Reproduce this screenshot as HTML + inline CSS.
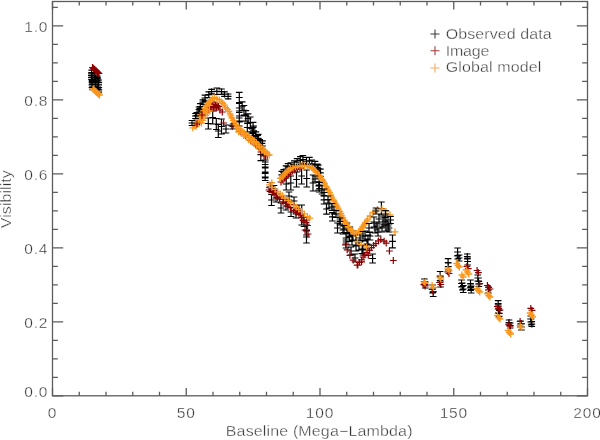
<!DOCTYPE html>
<html><head><meta charset="utf-8"><style>
html,body{margin:0;padding:0;background:#fff;width:600px;height:440px;overflow:hidden}
svg{display:block;will-change:transform}
.t{font-family:"Liberation Sans",sans-serif;font-size:15.5px;fill:#333333;letter-spacing:0.8px;stroke:#fff;stroke-width:0.35px}
.s{font-family:"Liberation Sans",sans-serif;font-size:14.3px;fill:#333333;stroke:#fff;stroke-width:0.35px}
</style></head><body>
<svg width="600" height="440" viewBox="0 0 600 440">
<rect width="600" height="440" fill="#fff"/>
<path d="M91.7 70.1v5.0M88.4 70.1h6.6M88.4 75.1h6.6M88.3 72.6h6.8M91.7 69.2v6.8M91.4 73.1v4.6M88.1 73.1h6.6M88.1 77.7h6.6M88.0 75.4h6.8M91.4 72.0v6.8M91.5 75.6v4.1M88.2 75.6h6.6M88.2 79.7h6.6M88.1 77.7h6.8M91.5 74.3v6.8M92.1 77.4v4.1M88.8 77.4h6.6M88.8 81.6h6.6M88.7 79.5h6.8M92.1 76.1v6.8M92.2 80.6v4.2M88.9 80.6h6.6M88.9 84.8h6.6M88.8 82.7h6.8M92.2 79.3v6.8M92.0 82.1v5.5M88.7 82.1h6.6M88.7 87.6h6.6M88.6 84.8h6.8M92.0 81.4v6.8M92.6 84.1v5.6M89.3 84.1h6.6M89.3 89.7h6.6M89.2 86.9h6.8M92.6 83.5v6.8M97.3 76.2v4.5M94.0 76.2h6.6M94.0 80.7h6.6M93.9 78.4h6.8M97.3 75.0v6.8M97.5 77.7v4.5M94.2 77.7h6.6M94.2 82.2h6.6M94.1 79.9h6.8M97.5 76.5v6.8M98.7 80.0v4.9M95.4 80.0h6.6M95.4 84.9h6.6M95.3 82.4h6.8M98.7 79.0v6.8M98.5 82.6v4.9M95.2 82.6h6.6M95.2 87.5h6.6M95.1 85.0h6.8M98.5 81.6v6.8M97.7 84.9v4.3M94.4 84.9h6.6M94.4 89.2h6.6M94.3 87.1h6.8M97.7 83.7v6.8M98.8 87.7v4.5M95.5 87.7h6.6M95.5 92.2h6.6M95.4 89.9h6.8M98.8 86.5v6.8M95.1 73.7v4.5M91.8 73.7h6.6M91.8 78.2h6.6M91.7 75.9h6.8M95.1 72.5v6.8M95.6 78.0v4.4M92.3 78.0h6.6M92.3 82.4h6.6M92.2 80.2h6.8M95.6 76.8v6.8M95.5 81.3v5.4M92.2 81.3h6.6M92.2 86.7h6.6M92.1 84.0h6.8M95.5 80.6v6.8M95.9 85.0v5.6M92.6 85.0h6.6M92.6 90.5h6.6M92.5 87.7h6.8M95.9 84.3v6.8M196.8 112.5v6.5M193.5 112.5h6.6M193.5 119.0h6.6M193.4 115.7h6.8M196.8 112.3v6.8M199.8 108.4v4.8M196.5 108.4h6.6M196.5 113.2h6.6M196.4 110.8h6.8M199.8 107.4v6.8M200.3 103.7v5.6M197.0 103.7h6.6M197.0 109.3h6.6M196.9 106.5h6.8M200.3 103.1v6.8M202.9 99.9v4.4M199.6 99.9h6.6M199.6 104.3h6.6M199.5 102.1h6.8M202.9 98.7v6.8M205.0 95.2v5.8M201.7 95.2h6.6M201.7 100.9h6.6M201.6 98.0h6.8M205.0 94.6v6.8M208.8 91.8v5.6M205.5 91.8h6.6M205.5 97.5h6.6M205.4 94.6h6.8M208.8 91.2v6.8M211.6 89.3v4.5M208.3 89.3h6.6M208.3 93.8h6.6M208.2 91.6h6.8M211.6 88.2v6.8M216.9 88.0v6.5M213.6 88.0h6.6M213.6 94.5h6.6M213.5 91.3h6.8M216.9 87.9v6.8M221.5 89.0v5.4M218.2 89.0h6.6M218.2 94.3h6.6M218.1 91.6h6.8M221.5 88.2v6.8M224.5 91.8v4.5M221.2 91.8h6.6M221.2 96.3h6.6M221.1 94.1h6.8M224.5 90.7v6.8M228.1 94.0v4.8M224.8 94.0h6.6M224.8 98.8h6.6M224.7 96.4h6.8M228.1 93.0v6.8M208.3 118.0v11.0M205.0 118.0h6.6M205.0 129.0h6.6M204.9 123.5h6.8M212.7 111.0v13.0M209.4 111.0h6.6M209.4 124.0h6.6M209.3 117.5h6.8M216.3 118.5v11.0M213.0 118.5h6.6M213.0 129.5h6.6M212.9 124.0h6.8M218.3 124.5v13.0M215.0 124.5h6.6M215.0 137.5h6.6M214.9 131.0h6.8M221.5 119.0v15.0M218.2 119.0h6.6M218.2 134.0h6.6M218.1 126.5h6.8M226.0 125.0v8.0M222.7 125.0h6.6M222.7 133.0h6.6M222.6 129.0h6.8M233.0 124.0v5.0M229.7 124.0h6.6M229.7 129.0h6.6M229.6 126.5h6.8M233.0 123.1v6.8M239.3 92.3v10.4M236.0 92.3h6.6M236.0 102.7h6.6M235.9 97.5h6.8M239.3 103.5v9.0M236.0 103.5h6.6M236.0 112.5h6.6M235.9 108.0h6.8M239.3 111.0v10.0M236.0 111.0h6.6M236.0 121.0h6.6M235.9 116.0h6.8M239.3 118.0v8.0M236.0 118.0h6.6M236.0 126.0h6.6M235.9 122.0h6.8M242.2 101.9v8.4M238.9 101.9h6.6M238.9 110.3h6.6M238.8 106.1h6.8M244.0 105.5v9.6M240.7 105.5h6.6M240.7 115.0h6.6M240.6 110.3h6.8M245.8 110.7v10.4M242.5 110.7h6.6M242.5 121.1h6.6M242.4 115.9h6.8M248.0 113.9v9.5M244.7 113.9h6.6M244.7 123.4h6.6M244.6 118.7h6.8M250.3 117.0v11.1M247.0 117.0h6.6M247.0 128.1h6.6M246.9 122.6h6.8M253.1 122.4v9.9M249.8 122.4h6.6M249.8 132.4h6.6M249.7 127.4h6.8M253.6 126.0v9.5M250.3 126.0h6.6M250.3 135.5h6.6M250.2 130.8h6.8M255.9 131.8v8.9M252.6 131.8h6.6M252.6 140.7h6.6M252.5 136.3h6.8M257.6 135.5v10.1M254.3 135.5h6.6M254.3 145.6h6.6M254.2 140.6h6.8M259.7 139.7v8.5M256.4 139.7h6.6M256.4 148.1h6.6M256.3 143.9h6.8M262.0 143.4v11.2M258.7 143.4h6.6M258.7 154.5h6.6M258.6 149.0h6.8M260.8 148.8v11.8M257.5 148.8h6.6M257.5 160.6h6.6M257.4 154.7h6.8M247.3 123.2v8.6M244.0 123.2h6.6M244.0 131.8h6.6M243.9 127.5h6.8M252.3 128.9v9.1M249.0 128.9h6.6M249.0 138.0h6.6M248.9 133.4h6.8M258.2 134.3v8.1M254.9 134.3h6.6M254.9 142.4h6.6M254.8 138.4h6.8M262.5 140.9v10.1M259.2 140.9h6.6M259.2 151.0h6.6M259.1 146.0h6.8M265.2 155.5v9.0M261.9 155.5h6.6M261.9 164.5h6.6M261.8 160.0h6.8M265.2 162.0v10.0M261.9 162.0h6.6M261.9 172.0h6.6M261.8 167.0h6.8M265.2 168.0v10.0M261.9 168.0h6.6M261.9 178.0h6.6M261.8 173.0h6.8M265.2 173.5v7.0M261.9 173.5h6.6M261.9 180.5h6.6M261.8 177.0h6.8M270.0 182.5v9.0M266.7 182.5h6.6M266.7 191.5h6.6M266.6 187.0h6.8M274.0 185.5v7.0M270.7 185.5h6.6M270.7 192.5h6.6M270.6 189.0h6.8M271.5 194.5v11.0M268.2 194.5h6.6M268.2 205.5h6.6M268.1 200.0h6.8M276.0 194.0v8.0M272.7 194.0h6.6M272.7 202.0h6.6M272.6 198.0h6.8M281.0 203.0v10.0M277.7 203.0h6.6M277.7 213.0h6.6M277.6 208.0h6.8M286.0 202.0v8.0M282.7 202.0h6.6M282.7 210.0h6.6M282.6 206.0h6.8M289.0 192.0v8.0M285.7 192.0h6.6M285.7 200.0h6.6M285.6 196.0h6.8M291.0 207.5v9.0M287.7 207.5h6.6M287.7 216.5h6.6M287.6 212.0h6.8M294.0 197.0v8.0M290.7 197.0h6.6M290.7 205.0h6.6M290.6 201.0h6.8M296.0 210.0v8.0M292.7 210.0h6.6M292.7 218.0h6.6M292.6 214.0h6.8M299.0 205.0v8.0M295.7 205.0h6.6M295.7 213.0h6.6M295.6 209.0h6.8M301.7 205.0v20.0M298.4 205.0h6.6M298.4 225.0h6.6M298.3 215.0h6.8M304.0 217.5v9.0M300.7 217.5h6.6M300.7 226.5h6.6M300.6 222.0h6.8M306.5 225.0v10.0M303.2 225.0h6.6M303.2 235.0h6.6M303.1 230.0h6.8M306.5 231.0v12.0M303.2 231.0h6.6M303.2 243.0h6.6M303.1 237.0h6.8M281.8 171.4v7.0M278.5 171.4h6.6M278.5 178.4h6.6M278.4 174.9h6.8M283.7 169.6v6.0M280.4 169.6h6.6M280.4 175.6h6.6M280.3 172.6h6.8M283.7 169.2v6.8M286.0 165.8v6.8M282.7 165.8h6.6M282.7 172.6h6.6M282.6 169.2h6.8M286.0 165.8v6.8M288.0 163.6v6.6M284.7 163.6h6.6M284.7 170.3h6.6M284.6 167.0h6.8M288.0 163.6v6.8M290.8 162.8v7.1M287.5 162.8h6.6M287.5 169.8h6.6M287.4 166.3h6.8M294.3 160.8v7.4M291.0 160.8h6.6M291.0 168.3h6.6M290.9 164.6h6.8M297.1 158.7v6.7M293.8 158.7h6.6M293.8 165.4h6.6M293.7 162.1h6.8M297.1 158.7v6.8M300.3 156.7v7.4M297.0 156.7h6.6M297.0 164.1h6.6M296.9 160.4h6.8M302.9 155.6v7.7M299.6 155.6h6.6M299.6 163.3h6.6M299.5 159.5h6.8M306.5 157.5v7.5M303.2 157.5h6.6M303.2 164.9h6.6M303.1 161.2h6.8M309.4 157.4v7.0M306.1 157.4h6.6M306.1 164.4h6.6M306.0 160.9h6.8M311.9 160.0v7.6M308.6 160.0h6.6M308.6 167.6h6.6M308.5 163.8h6.8M315.0 161.3v7.8M311.7 161.3h6.6M311.7 169.1h6.6M311.6 165.2h6.8M317.3 164.2v6.5M314.0 164.2h6.6M314.0 170.7h6.6M313.9 167.4h6.8M317.3 164.0v6.8M318.2 165.2v6.7M314.9 165.2h6.6M314.9 172.0h6.6M314.8 168.6h6.8M318.2 165.2v6.8M320.4 169.2v7.1M317.1 169.2h6.6M317.1 176.4h6.6M317.0 172.8h6.8M286.2 178.0v12.0M282.9 178.0h6.6M282.9 190.0h6.6M282.8 184.0h6.8M290.8 176.0v14.0M287.5 176.0h6.6M287.5 190.0h6.6M287.4 183.0h6.8M296.5 172.0v15.0M293.2 172.0h6.6M293.2 187.0h6.6M293.1 179.5h6.8M301.6 168.0v16.0M298.3 168.0h6.6M298.3 184.0h6.6M298.2 176.0h6.8M306.7 170.0v17.0M303.4 170.0h6.6M303.4 187.0h6.6M303.3 178.5h6.8M313.0 175.0v16.0M309.7 175.0h6.6M309.7 191.0h6.6M309.6 183.0h6.8M319.2 178.0v14.0M315.9 178.0h6.6M315.9 192.0h6.6M315.8 185.0h6.8M318.8 181.8v8.4M315.5 181.8h6.6M315.5 190.2h6.6M315.4 186.0h6.8M322.0 186.0v8.0M318.7 186.0h6.6M318.7 194.0h6.6M318.6 190.0h6.8M324.0 195.6v8.4M320.7 195.6h6.6M320.7 204.0h6.6M320.6 199.8h6.8M326.5 203.8v10.4M323.2 203.8h6.6M323.2 214.2h6.6M323.1 209.0h6.8M329.0 200.0v8.0M325.7 200.0h6.6M325.7 208.0h6.6M325.6 204.0h6.8M332.4 212.6v8.4M329.1 212.6h6.6M329.1 221.0h6.6M329.0 216.8h6.8M334.0 206.0v8.0M330.7 206.0h6.6M330.7 214.0h6.6M330.6 210.0h6.8M337.5 223.0v10.0M334.2 223.0h6.6M334.2 233.0h6.6M334.1 228.0h6.8M340.0 216.0v8.0M336.7 216.0h6.6M336.7 224.0h6.6M336.6 220.0h6.8M343.0 226.0v8.0M339.7 226.0h6.6M339.7 234.0h6.6M339.6 230.0h6.8M346.0 234.0v8.0M342.7 234.0h6.6M342.7 242.0h6.6M342.6 238.0h6.8M349.5 230.5v11.0M346.2 230.5h6.6M346.2 241.5h6.6M346.1 236.0h6.8M352.0 235.0v10.0M348.7 235.0h6.6M348.7 245.0h6.6M348.6 240.0h6.8M356.0 241.0v10.0M352.7 241.0h6.6M352.7 251.0h6.6M352.6 246.0h6.8M360.0 234.0v8.0M356.7 234.0h6.6M356.7 242.0h6.6M356.6 238.0h6.8M363.0 245.0v10.0M359.7 245.0h6.6M359.7 255.0h6.6M359.6 250.0h6.8M367.0 239.0v10.0M363.7 239.0h6.6M363.7 249.0h6.6M363.6 244.0h6.8M370.0 232.0v8.0M366.7 232.0h6.6M366.7 240.0h6.6M366.6 236.0h6.8M372.6 254.0v9.0M369.3 254.0h6.6M369.3 263.0h6.6M369.2 258.5h6.8M375.0 223.0v10.0M371.7 223.0h6.6M371.7 233.0h6.6M371.6 228.0h6.8M378.0 228.0v8.0M374.7 228.0h6.6M374.7 236.0h6.6M374.6 232.0h6.8M381.4 202.0v13.0M378.1 202.0h6.6M378.1 215.0h6.6M378.0 208.5h6.8M383.0 217.0v10.0M379.7 217.0h6.6M379.7 227.0h6.6M379.6 222.0h6.8M386.0 219.0v12.0M382.7 219.0h6.6M382.7 231.0h6.6M382.6 225.0h6.8M389.0 224.0v8.0M385.7 224.0h6.6M385.7 232.0h6.6M385.6 228.0h6.8M392.5 235.0v12.8M389.2 235.0h6.6M389.2 247.8h6.6M389.1 241.4h6.8M355.0 254.0v8.0M351.7 254.0h6.6M351.7 262.0h6.6M351.6 258.0h6.8M347.0 223.0v10.0M343.7 223.0h6.6M343.7 233.0h6.6M343.6 228.0h6.8M350.0 227.0v10.0M346.7 227.0h6.6M346.7 237.0h6.6M346.6 232.0h6.8M353.0 231.0v10.0M349.7 231.0h6.6M349.7 241.0h6.6M349.6 236.0h6.8M356.0 235.0v10.0M352.7 235.0h6.6M352.7 245.0h6.6M352.6 240.0h6.8M359.0 240.0v10.0M355.7 240.0h6.6M355.7 250.0h6.6M355.6 245.0h6.8M362.0 244.5v9.0M358.7 244.5h6.6M358.7 253.5h6.6M358.6 249.0h6.8M365.0 231.0v10.0M361.7 231.0h6.6M361.7 241.0h6.6M361.6 236.0h6.8M368.0 235.0v10.0M364.7 235.0h6.6M364.7 245.0h6.6M364.6 240.0h6.8M346.0 240.0v8.0M342.7 240.0h6.6M342.7 248.0h6.6M342.6 244.0h6.8M351.0 247.0v8.0M347.7 247.0h6.6M347.7 255.0h6.6M347.6 251.0h6.8M424.4 279.0v5.0M421.1 279.0h6.6M421.1 284.0h6.6M421.0 281.5h6.8M424.4 278.1v6.8M425.3 282.0v6.0M422.0 282.0h6.6M422.0 288.0h6.6M421.9 285.0h6.8M425.3 281.6v6.8M432.6 285.0v8.0M429.3 285.0h6.6M429.3 293.0h6.6M429.2 289.0h6.8M433.2 287.5v9.0M429.9 287.5h6.6M429.9 296.5h6.6M429.8 292.0h6.8M440.1 271.5v9.0M436.8 271.5h6.6M436.8 280.5h6.6M436.7 276.0h6.8M440.5 277.0v10.0M437.2 277.0h6.6M437.2 287.0h6.6M437.1 282.0h6.8M448.1 258.7v8.0M444.8 258.7h6.6M444.8 266.7h6.6M444.7 262.7h6.8M448.3 263.0v7.0M445.0 263.0h6.6M445.0 270.0h6.6M444.9 266.5h6.8M457.6 248.0v8.0M454.3 248.0h6.6M454.3 256.0h6.6M454.2 252.0h6.8M457.7 252.0v7.0M454.4 252.0h6.6M454.4 259.0h6.6M454.3 255.5h6.8M459.1 255.0v6.0M455.8 255.0h6.6M455.8 261.0h6.6M455.7 258.0h6.8M459.1 254.6v6.8M467.3 254.0v5.0M464.0 254.0h6.6M464.0 259.0h6.6M463.9 256.5h6.8M467.3 253.1v6.8M467.6 258.0v7.0M464.3 258.0h6.6M464.3 265.0h6.6M464.2 261.5h6.8M461.5 280.0v7.0M458.2 280.0h6.6M458.2 287.0h6.6M458.1 283.5h6.8M462.3 283.0v7.0M459.0 283.0h6.6M459.0 290.0h6.6M458.9 286.5h6.8M463.3 285.5v7.0M460.0 285.5h6.6M460.0 292.5h6.6M459.9 289.0h6.8M470.5 280.0v8.0M467.2 280.0h6.6M467.2 288.0h6.6M467.1 284.0h6.8M470.6 283.5v7.0M467.3 283.5h6.6M467.3 290.5h6.6M467.2 287.0h6.8M471.2 286.0v7.0M467.9 286.0h6.6M467.9 293.0h6.6M467.8 289.5h6.8M477.8 275.0v6.0M474.5 275.0h6.6M474.5 281.0h6.6M474.4 278.0h6.8M477.8 274.6v6.8M478.5 278.0v6.0M475.2 278.0h6.6M475.2 284.0h6.6M475.1 281.0h6.8M478.5 277.6v6.8M478.9 281.5v5.0M475.6 281.5h6.6M475.6 286.5h6.6M475.5 284.0h6.8M478.9 280.6v6.8M488.4 287.0v6.0M485.1 287.0h6.6M485.1 293.0h6.6M485.0 290.0h6.8M488.4 286.6v6.8M498.2 300.7v6.0M494.9 300.7h6.6M494.9 306.7h6.6M494.8 303.7h6.8M498.2 300.3v6.8M498.2 305.0v8.0M494.9 305.0h6.6M494.9 313.0h6.6M494.8 309.0h6.8M499.2 310.4v6.0M495.9 310.4h6.6M495.9 316.4h6.6M495.8 313.4h6.8M499.2 310.0v6.8M509.0 320.0v5.0M505.7 320.0h6.6M505.7 325.0h6.6M505.6 322.5h6.8M509.0 319.1v6.8M510.2 323.0v5.0M506.9 323.0h6.6M506.9 328.0h6.6M506.8 325.5h6.8M510.2 322.1v6.8M520.5 321.0v6.0M517.2 321.0h6.6M517.2 327.0h6.6M517.1 324.0h6.8M520.5 320.6v6.8M521.4 324.0v6.0M518.1 324.0h6.6M518.1 330.0h6.6M518.0 327.0h6.8M521.4 323.6v6.8M530.7 316.0v6.0M527.4 316.0h6.6M527.4 322.0h6.6M527.3 319.0h6.8M530.7 315.6v6.8M531.1 319.0v6.0M527.8 319.0h6.6M527.8 325.0h6.6M527.7 322.0h6.8M531.1 318.6v6.8M531.8 321.5v5.0M528.5 321.5h6.6M528.5 326.5h6.6M528.4 324.0h6.8M531.8 320.6v6.8" stroke="#000" stroke-width="1.2" fill="none"/><path d="M89.1 67.5h6.8M92.5 64.1v6.8M89.8 68.1h6.8M93.2 64.7v6.8M90.4 68.7h6.8M93.8 65.3v6.8M91.0 69.3h6.8M94.5 65.9v6.8M91.7 69.9h6.8M95.1 66.5v6.8M92.3 70.5h6.8M95.8 67.1v6.8M93.0 71.1h6.8M96.4 67.7v6.8M93.6 71.7h6.8M97.0 68.3v6.8M94.3 72.3h6.8M97.7 68.9v6.8M94.9 72.9h6.8M98.3 69.5v6.8M95.6 73.5h6.8M99.0 70.1v6.8M204.6 106.0h6.8M208.0 102.6v6.8M206.1 105.5h6.8M209.5 102.1v6.8M207.6 105.0h6.8M211.0 101.6v6.8M209.1 104.5h6.8M212.5 101.1v6.8M210.6 104.5h6.8M214.0 101.1v6.8M212.1 105.0h6.8M215.5 101.6v6.8M213.6 105.5h6.8M217.0 102.1v6.8M215.1 106.5h6.8M218.5 103.1v6.8M205.6 108.0h6.8M209.0 104.6v6.8M207.1 107.5h6.8M210.5 104.1v6.8M208.6 107.5h6.8M212.0 104.1v6.8M210.1 107.5h6.8M213.5 104.1v6.8M211.6 107.5h6.8M215.0 104.1v6.8M213.1 108.0h6.8M216.5 104.6v6.8M203.6 110.0h6.8M207.0 106.6v6.8M205.1 109.5h6.8M208.5 106.1v6.8M201.6 112.5h6.8M205.0 109.1v6.8M199.6 115.5h6.8M203.0 112.1v6.8M197.6 119.0h6.8M201.0 115.6v6.8M196.1 122.0h6.8M199.5 118.6v6.8M218.9 112.0h6.8M222.3 108.6v6.8M220.2 123.0h6.8M223.6 119.6v6.8M228.4 125.7h6.8M231.8 122.3v6.8M257.6 152.0h6.8M261.0 148.6v6.8M260.6 156.0h6.8M264.0 152.6v6.8M216.6 110.0h6.8M220.0 106.6v6.8M236.9 131.3h6.8M240.3 127.9v6.8M242.1 135.6h6.8M245.5 132.2v6.8M247.3 140.5h6.8M250.7 137.1v6.8M252.3 144.9h6.8M255.7 141.5v6.8M258.1 149.9h6.8M261.5 146.5v6.8M263.8 155.5h6.8M267.2 152.1v6.8M265.6 190.0h6.8M269.0 186.6v6.8M268.7 192.5h6.8M272.1 189.1v6.8M270.7 195.0h6.8M274.1 191.6v6.8M274.2 197.6h6.8M277.6 194.2v6.8M276.2 199.1h6.8M279.6 195.7v6.8M279.6 201.8h6.8M283.0 198.4v6.8M282.1 203.4h6.8M285.5 200.0v6.8M284.2 206.2h6.8M287.6 202.8v6.8M287.2 207.9h6.8M290.6 204.5v6.8M290.4 210.7h6.8M293.8 207.3v6.8M292.9 212.4h6.8M296.3 209.0v6.8M295.6 214.7h6.8M299.0 211.3v6.8M297.9 217.7h6.8M301.3 214.3v6.8M299.7 220.4h6.8M303.1 217.0v6.8M302.7 222.7h6.8M306.1 219.3v6.8M304.2 225.5h6.8M307.6 222.1v6.8M266.3 187.6h6.8M269.7 184.2v6.8M269.7 190.4h6.8M273.1 187.0v6.8M273.1 193.5h6.8M276.5 190.1v6.8M276.7 196.8h6.8M280.1 193.4v6.8M280.1 199.3h6.8M283.5 195.9v6.8M283.5 201.9h6.8M286.9 198.5v6.8M286.8 204.7h6.8M290.2 201.3v6.8M290.2 208.0h6.8M293.6 204.6v6.8M294.1 210.4h6.8M297.5 207.0v6.8M297.3 214.1h6.8M300.7 210.7v6.8M300.1 217.2h6.8M303.5 213.8v6.8M303.5 220.0h6.8M306.9 216.6v6.8M301.6 230.0h6.8M305.0 226.6v6.8M304.6 234.0h6.8M308.0 230.6v6.8M277.6 182.0h6.8M281.0 178.6v6.8M279.4 180.0h6.8M282.8 176.6v6.8M281.2 178.1h6.8M284.6 174.7v6.8M283.0 176.1h6.8M286.4 172.7v6.8M285.0 174.4h6.8M288.4 171.0v6.8M286.9 172.6h6.8M290.3 169.2v6.8M289.2 171.2h6.8M292.6 167.8v6.8M291.5 170.0h6.8M294.9 166.6v6.8M294.0 169.1h6.8M297.4 165.7v6.8M296.6 168.5h6.8M300.0 165.1v6.8M342.2 244.9h6.8M345.6 241.5v6.8M343.8 249.9h6.8M347.2 246.5v6.8M346.5 255.4h6.8M349.9 252.0v6.8M349.8 260.2h6.8M353.2 256.8v6.8M353.8 265.1h6.8M357.2 261.7v6.8M354.4 265.2h6.8M357.8 261.8v6.8M356.0 262.4h6.8M359.4 259.0v6.8M358.1 259.9h6.8M361.5 256.5v6.8M359.7 257.0h6.8M363.1 253.6v6.8M361.4 255.1h6.8M364.8 251.7v6.8M363.5 252.4h6.8M366.9 249.0v6.8M366.1 250.4h6.8M369.5 247.0v6.8M368.1 247.7h6.8M371.5 244.3v6.8M370.2 245.4h6.8M373.6 242.0v6.8M372.5 243.5h6.8M375.9 240.1v6.8M375.0 241.0h6.8M378.4 237.6v6.8M377.4 239.7h6.8M380.8 236.3v6.8M380.7 241.1h6.8M384.1 237.7v6.8M382.8 243.1h6.8M386.2 239.7v6.8M358.2 261.9h6.8M361.6 258.5v6.8M364.9 255.3h6.8M368.3 251.9v6.8M386.0 251.0h6.8M389.4 247.6v6.8M389.9 260.5h6.8M393.3 257.1v6.8M420.5 284.6h6.8M423.9 281.2v6.8M421.8 286.0h6.8M425.1 282.6v6.8M428.7 289.5h6.8M432.1 286.1v6.8M429.9 291.5h6.8M433.3 288.1v6.8M436.2 282.5h6.8M439.6 279.1v6.8M437.4 284.5h6.8M440.8 281.1v6.8M444.4 271.8h6.8M447.8 268.4v6.8M445.6 273.5h6.8M449.0 270.1v6.8M463.5 266.5h6.8M466.9 263.1v6.8M464.8 268.6h6.8M468.1 265.2v6.8M473.7 270.5h6.8M477.1 267.1v6.8M475.0 272.7h6.8M478.4 269.3v6.8M476.3 283.7h6.8M479.7 280.3v6.8M484.0 285.5h6.8M487.4 282.1v6.8M485.3 287.5h6.8M488.7 284.1v6.8M486.6 289.0h6.8M490.0 285.6v6.8M494.0 306.5h6.8M497.4 303.1v6.8M495.3 308.3h6.8M498.7 304.9v6.8M496.6 310.0h6.8M500.0 306.6v6.8M505.4 324.2h6.8M508.8 320.8v6.8M506.6 326.2h6.8M510.0 322.8v6.8M516.7 321.5h6.8M520.1 318.1v6.8M518.0 323.5h6.8M521.4 320.1v6.8M527.4 308.3h6.8M530.8 304.9v6.8M528.6 310.3h6.8M532.0 306.9v6.8" stroke="#8b0000" stroke-width="1.2" fill="none"/><path d="M89.6 89.0h6.8M93.0 85.6v6.8M90.2 89.6h6.8M93.7 86.2v6.8M90.9 90.2h6.8M94.3 86.8v6.8M91.5 90.8h6.8M95.0 87.4v6.8M92.2 91.4h6.8M95.6 88.0v6.8M92.8 92.0h6.8M96.2 88.6v6.8M93.5 92.6h6.8M96.9 89.2v6.8M94.1 93.2h6.8M97.5 89.8v6.8M94.8 93.8h6.8M98.2 90.4v6.8M95.4 94.4h6.8M98.8 91.0v6.8M96.1 95.0h6.8M99.5 91.6v6.8M189.4 127.8h6.8M192.8 124.4v6.8M191.0 125.7h6.8M194.4 122.3v6.8M192.0 123.1h6.8M195.4 119.7v6.8M193.2 121.0h6.8M196.6 117.6v6.8M194.6 119.1h6.8M198.0 115.7v6.8M196.3 117.1h6.8M199.7 113.7v6.8M197.4 114.9h6.8M200.8 111.5v6.8M198.9 112.4h6.8M202.3 109.0v6.8M200.1 110.8h6.8M203.5 107.4v6.8M201.5 108.5h6.8M204.9 105.1v6.8M202.7 106.1h6.8M206.1 102.7v6.8M204.3 104.1h6.8M207.7 100.7v6.8M205.7 102.4h6.8M209.1 99.0v6.8M207.1 100.1h6.8M210.5 96.7v6.8M209.1 98.6h6.8M212.5 95.2v6.8M211.1 97.6h6.8M214.5 94.2v6.8M213.5 98.8h6.8M216.9 95.4v6.8M215.9 99.8h6.8M219.3 96.4v6.8M217.9 101.9h6.8M221.3 98.5v6.8M219.4 103.4h6.8M222.8 100.0v6.8M221.0 105.1h6.8M224.4 101.7v6.8M222.2 107.6h6.8M225.6 104.2v6.8M224.0 109.4h6.8M227.4 106.0v6.8M225.6 111.4h6.8M229.0 108.0v6.8M226.7 113.9h6.8M230.1 110.5v6.8M227.4 115.8h6.8M230.8 112.4v6.8M228.6 118.0h6.8M232.0 114.6v6.8M229.9 120.3h6.8M233.3 116.9v6.8M230.9 122.4h6.8M234.3 119.0v6.8M232.6 124.7h6.8M236.0 121.3v6.8M233.7 126.9h6.8M237.1 123.5v6.8M235.7 128.6h6.8M239.1 125.2v6.8M237.6 130.2h6.8M241.0 126.8v6.8M239.3 131.8h6.8M242.7 128.4v6.8M241.0 133.3h6.8M244.4 129.9v6.8M243.1 134.6h6.8M246.5 131.2v6.8M245.4 136.2h6.8M248.8 132.8v6.8M247.2 138.1h6.8M250.6 134.7v6.8M249.1 139.5h6.8M252.5 136.1v6.8M251.0 141.3h6.8M254.4 137.9v6.8M253.1 142.7h6.8M256.5 139.3v6.8M254.8 144.4h6.8M258.2 141.0v6.8M256.5 146.4h6.8M259.9 143.0v6.8M258.5 148.0h6.8M261.9 144.6v6.8M260.4 149.9h6.8M263.8 146.5v6.8M262.0 151.5h6.8M265.4 148.1v6.8M263.8 153.2h6.8M267.2 149.8v6.8M265.7 155.0h6.8M269.1 151.6v6.8M198.1 123.0h6.8M201.5 119.6v6.8M199.3 120.3h6.8M202.7 116.9v6.8M200.5 117.7h6.8M203.9 114.3v6.8M202.2 115.3h6.8M205.6 111.9v6.8M204.0 113.1h6.8M207.4 109.7v6.8M206.1 111.0h6.8M209.5 107.6v6.8M192.6 126.7h6.8M196.0 123.3v6.8M194.6 123.1h6.8M198.0 119.7v6.8M197.2 120.1h6.8M200.6 116.7v6.8M199.5 116.0h6.8M202.9 112.6v6.8M201.5 112.9h6.8M204.9 109.5v6.8M203.2 109.4h6.8M206.6 106.0v6.8M206.0 105.3h6.8M209.4 101.9v6.8M268.4 182.8h6.8M271.8 179.4v6.8M233.0 129.4h6.8M236.4 126.0v6.8M235.2 131.9h6.8M238.6 128.5v6.8M238.0 133.3h6.8M241.4 129.9v6.8M240.3 135.6h6.8M243.7 132.2v6.8M242.8 137.4h6.8M246.2 134.0v6.8M245.4 139.9h6.8M248.8 136.5v6.8M247.7 141.8h6.8M251.1 138.4v6.8M250.5 143.5h6.8M253.9 140.1v6.8M253.0 146.2h6.8M256.4 142.8v6.8M255.6 147.9h6.8M259.0 144.5v6.8M258.5 150.6h6.8M261.9 147.2v6.8M261.0 152.2h6.8M264.4 148.8v6.8M266.1 184.9h6.8M269.5 181.5v6.8M268.5 187.4h6.8M271.9 184.0v6.8M271.7 189.3h6.8M275.1 185.9v6.8M274.3 191.9h6.8M277.7 188.5v6.8M276.8 193.8h6.8M280.2 190.4v6.8M279.2 195.7h6.8M282.6 192.3v6.8M281.6 198.0h6.8M285.0 194.6v6.8M284.9 200.4h6.8M288.3 197.0v6.8M287.0 202.5h6.8M290.4 199.1v6.8M290.4 205.5h6.8M293.8 202.1v6.8M293.0 207.1h6.8M296.4 203.7v6.8M295.3 209.3h6.8M298.7 205.9v6.8M298.2 211.4h6.8M301.6 208.0v6.8M300.9 213.8h6.8M304.3 210.4v6.8M304.1 216.7h6.8M307.5 213.3v6.8M306.3 218.2h6.8M309.7 214.8v6.8M277.0 178.4h6.8M280.4 175.0v6.8M278.8 176.8h6.8M282.2 173.4v6.8M280.4 175.0h6.8M283.8 171.6v6.8M281.7 172.9h6.8M285.1 169.5v6.8M283.6 171.7h6.8M287.0 168.3v6.8M285.4 170.0h6.8M288.8 166.6v6.8M287.2 168.5h6.8M290.6 165.1v6.8M289.6 167.9h6.8M293.0 164.5v6.8M292.0 166.9h6.8M295.4 163.5v6.8M294.1 166.2h6.8M297.5 162.8v6.8M296.5 165.7h6.8M299.9 162.3v6.8M298.7 165.6h6.8M302.1 162.2v6.8M301.1 165.9h6.8M304.5 162.5v6.8M303.9 165.6h6.8M307.3 162.2v6.8M305.9 166.8h6.8M309.3 163.4v6.8M308.3 167.7h6.8M311.7 164.3v6.8M309.8 169.0h6.8M313.2 165.6v6.8M311.8 170.7h6.8M315.2 167.3v6.8M313.2 172.4h6.8M316.6 169.0v6.8M314.8 174.7h6.8M318.2 171.3v6.8M316.1 176.4h6.8M319.5 173.0v6.8M317.6 178.5h6.8M321.0 175.1v6.8M319.1 180.0h6.8M322.5 176.6v6.8M320.5 182.2h6.8M323.9 178.8v6.8M321.3 183.9h6.8M324.7 180.5v6.8M322.7 186.3h6.8M326.1 182.9v6.8M323.7 188.2h6.8M327.1 184.8v6.8M324.8 190.5h6.8M328.2 187.1v6.8M326.2 192.4h6.8M329.6 189.0v6.8M327.3 195.0h6.8M330.7 191.6v6.8M328.1 197.1h6.8M331.5 193.7v6.8M329.6 199.2h6.8M333.0 195.8v6.8M330.5 201.0h6.8M333.9 197.6v6.8M331.8 203.4h6.8M335.2 200.0v6.8M333.0 205.1h6.8M336.4 201.7v6.8M334.0 207.2h6.8M337.4 203.8v6.8M334.9 209.2h6.8M338.3 205.8v6.8M336.5 211.5h6.8M339.9 208.1v6.8M337.6 213.6h6.8M341.0 210.2v6.8M338.3 215.9h6.8M341.7 212.5v6.8M339.4 217.9h6.8M342.8 214.5v6.8M341.0 220.3h6.8M344.4 216.9v6.8M342.1 222.2h6.8M345.5 218.8v6.8M343.3 224.5h6.8M346.7 221.1v6.8M344.2 226.4h6.8M347.6 223.0v6.8M345.5 228.3h6.8M348.9 224.9v6.8M347.4 230.0h6.8M350.8 226.6v6.8M349.2 231.4h6.8M352.6 228.0v6.8M350.6 233.4h6.8M354.0 230.0v6.8M352.9 233.5h6.8M356.3 230.1v6.8M355.0 232.7h6.8M358.4 229.3v6.8M356.7 231.1h6.8M360.1 227.7v6.8M357.8 229.0h6.8M361.2 225.6v6.8M359.3 227.0h6.8M362.7 223.6v6.8M360.7 224.9h6.8M364.1 221.5v6.8M361.8 222.9h6.8M365.2 219.5v6.8M363.6 221.0h6.8M367.0 217.6v6.8M364.4 219.2h6.8M367.8 215.8v6.8M366.6 216.0h6.8M370.0 212.6v6.8M369.6 212.5h6.8M373.0 209.1v6.8M374.1 209.5h6.8M377.5 206.1v6.8M378.6 209.0h6.8M382.0 205.6v6.8M382.6 211.5h6.8M386.0 208.1v6.8M386.6 215.0h6.8M390.0 211.6v6.8M391.6 231.8h6.8M395.0 228.4v6.8M354.0 241.5h6.8M357.4 238.1v6.8M357.8 244.6h6.8M361.2 241.2v6.8M363.3 247.0h6.8M366.7 243.6v6.8M420.5 281.8h6.8M423.9 278.4v6.8M421.8 283.0h6.8M425.1 279.6v6.8M428.7 285.5h6.8M432.1 282.1v6.8M429.9 287.5h6.8M433.3 284.1v6.8M436.2 277.2h6.8M439.6 273.8v6.8M437.4 279.0h6.8M440.8 275.6v6.8M444.4 268.8h6.8M447.8 265.4v6.8M445.6 270.8h6.8M449.0 267.4v6.8M453.3 263.5h6.8M456.7 260.1v6.8M454.6 265.5h6.8M458.0 262.1v6.8M455.9 267.0h6.8M459.3 263.6v6.8M462.8 270.0h6.8M466.2 266.6v6.8M464.1 272.0h6.8M467.5 268.6v6.8M465.4 274.0h6.8M468.8 270.6v6.8M458.5 275.0h6.8M461.9 271.6v6.8M459.8 277.0h6.8M463.1 273.6v6.8M473.7 288.5h6.8M477.1 285.1v6.8M475.0 290.5h6.8M478.4 287.1v6.8M476.3 292.0h6.8M479.7 288.6v6.8M484.0 293.5h6.8M487.4 290.1v6.8M485.3 295.5h6.8M488.7 292.1v6.8M486.6 297.0h6.8M490.0 293.6v6.8M494.0 315.5h6.8M497.4 312.1v6.8M495.3 317.5h6.8M498.7 314.1v6.8M496.6 319.0h6.8M500.0 315.6v6.8M504.7 330.5h6.8M508.1 327.1v6.8M506.0 332.5h6.8M509.4 329.1v6.8M507.3 334.0h6.8M510.7 330.6v6.8M516.7 325.5h6.8M520.1 322.1v6.8M518.0 327.5h6.8M521.4 324.1v6.8M526.7 313.0h6.8M530.1 309.6v6.8M528.0 315.0h6.8M531.4 311.6v6.8M529.3 317.0h6.8M532.7 313.6v6.8" stroke="#f8961e" stroke-width="1.3" fill="none"/><path d="M192.0 120.5v5.0M188.7 120.5h6.6M188.7 125.5h6.6M188.6 123.0h6.8M195.5 113.5v5.0M192.2 113.5h6.6M192.2 118.5h6.6M192.1 116.0h6.8M199.0 107.0v5.0M195.7 107.0h6.6M195.7 112.0h6.6M195.6 109.5h6.8M363.0 231.5v9.0M359.7 231.5h6.6M359.7 240.5h6.6M359.6 236.0h6.8M369.0 223.5v9.0M365.7 223.5h6.6M365.7 232.5h6.6M365.6 228.0h6.8M374.0 217.0v10.0M370.7 217.0h6.6M370.7 227.0h6.6M370.6 222.0h6.8M379.0 214.0v10.0M375.7 214.0h6.6M375.7 224.0h6.6M375.6 219.0h6.8M385.0 216.0v10.0M381.7 216.0h6.6M381.7 226.0h6.6M381.6 221.0h6.8M388.0 222.0v8.0M384.7 222.0h6.6M384.7 230.0h6.6M384.6 226.0h6.8M377.0 222.0v8.0M373.7 222.0h6.6M373.7 230.0h6.6M373.6 226.0h6.8M382.0 224.0v8.0M378.7 224.0h6.6M378.7 232.0h6.6M378.6 228.0h6.8M376.0 208.0v6.0M372.7 208.0h6.6M372.7 214.0h6.6M372.6 211.0h6.8M385.5 210.5v7.0M382.2 210.5h6.6M382.2 217.5h6.6M382.1 214.0h6.8M390.5 216.5v7.0M387.2 216.5h6.6M387.2 223.5h6.6M387.1 220.0h6.8M315.0 176.0v6.0M311.7 176.0h6.6M311.7 182.0h6.6M311.6 179.0h6.8M319.5 182.5v6.0M316.2 182.5h6.6M316.2 188.5h6.6M316.1 185.5h6.8M324.0 189.0v7.0M320.7 189.0h6.6M320.7 196.0h6.6M320.6 192.5h6.8M328.0 196.0v7.0M324.7 196.0h6.6M324.7 203.0h6.6M324.6 199.5h6.8M332.0 203.5v7.0M328.7 203.5h6.6M328.7 210.5h6.6M328.6 207.0h6.8M336.0 210.5v7.0M332.7 210.5h6.6M332.7 217.5h6.6M332.6 214.0h6.8M340.0 218.0v7.0M336.7 218.0h6.6M336.7 225.0h6.6M336.6 221.5h6.8M344.0 225.5v7.0M340.7 225.5h6.6M340.7 232.5h6.6M340.6 229.0h6.8" stroke="#000" stroke-width="1.2" fill="none"/><path d="M193.6 124.0h6.8M197.0 120.6v6.8M198.6 115.0h6.8M202.0 111.6v6.8" stroke="#8b0000" stroke-width="1.2" fill="none"/>
<rect x="52.5" y="1.5" width="535.0" height="394.3" fill="none" stroke="#5c5c5c" stroke-width="1.3"/><path d="M52.5 395.80h10.7M587.5 395.80h-10.7M52.5 377.30h5.35M587.5 377.30h-5.35M52.5 358.80h5.35M587.5 358.80h-5.35M52.5 340.30h5.35M587.5 340.30h-5.35M52.5 321.80h10.7M587.5 321.80h-10.7M52.5 303.30h5.35M587.5 303.30h-5.35M52.5 284.80h5.35M587.5 284.80h-5.35M52.5 266.30h5.35M587.5 266.30h-5.35M52.5 247.80h10.7M587.5 247.80h-10.7M52.5 229.30h5.35M587.5 229.30h-5.35M52.5 210.80h5.35M587.5 210.80h-5.35M52.5 192.30h5.35M587.5 192.30h-5.35M52.5 173.80h10.7M587.5 173.80h-10.7M52.5 155.30h5.35M587.5 155.30h-5.35M52.5 136.80h5.35M587.5 136.80h-5.35M52.5 118.30h5.35M587.5 118.30h-5.35M52.5 99.80h10.7M587.5 99.80h-10.7M52.5 81.30h5.35M587.5 81.30h-5.35M52.5 62.80h5.35M587.5 62.80h-5.35M52.5 44.30h5.35M587.5 44.30h-5.35M52.5 25.80h10.7M587.5 25.80h-10.7M52.5 7.30h5.35M587.5 7.30h-5.35M52.50 395.8v-7.9M52.50 1.5v7.9M79.25 395.8v-3.95M79.25 1.5v3.95M106.00 395.8v-3.95M106.00 1.5v3.95M132.75 395.8v-3.95M132.75 1.5v3.95M159.50 395.8v-3.95M159.50 1.5v3.95M186.25 395.8v-7.9M186.25 1.5v7.9M213.00 395.8v-3.95M213.00 1.5v3.95M239.75 395.8v-3.95M239.75 1.5v3.95M266.50 395.8v-3.95M266.50 1.5v3.95M293.25 395.8v-3.95M293.25 1.5v3.95M320.00 395.8v-7.9M320.00 1.5v7.9M346.75 395.8v-3.95M346.75 1.5v3.95M373.50 395.8v-3.95M373.50 1.5v3.95M400.25 395.8v-3.95M400.25 1.5v3.95M427.00 395.8v-3.95M427.00 1.5v3.95M453.75 395.8v-7.9M453.75 1.5v7.9M480.50 395.8v-3.95M480.50 1.5v3.95M507.25 395.8v-3.95M507.25 1.5v3.95M534.00 395.8v-3.95M534.00 1.5v3.95M560.75 395.8v-3.95M560.75 1.5v3.95M587.50 395.8v-7.9M587.50 1.5v7.9" stroke="#5c5c5c" stroke-width="1.3" fill="none"/><text x="48.3" y="396.6" text-anchor="end" class="t">0.0</text><text x="48.3" y="327.6" text-anchor="end" class="t">0.2</text><text x="48.3" y="253.6" text-anchor="end" class="t">0.4</text><text x="48.3" y="179.6" text-anchor="end" class="t">0.6</text><text x="48.3" y="105.6" text-anchor="end" class="t">0.8</text><text x="48.3" y="31.6" text-anchor="end" class="t">1.0</text><text x="52.5" y="418" text-anchor="middle" class="t">0</text><text x="186.2" y="418" text-anchor="middle" class="t">50</text><text x="320.0" y="418" text-anchor="middle" class="t">100</text><text x="453.8" y="418" text-anchor="middle" class="t">150</text><text x="587.5" y="418" text-anchor="middle" class="t">200</text><g transform="translate(225.8,435.8) scale(1.12,1)"><text x="0" y="0" textLength="166.70" lengthAdjust="spacing" class="s">Baseline (Mega&#8722;Lambda)</text></g><g transform="translate(11.0,228.2) rotate(-90) scale(1.12,1)"><text x="0" y="0" textLength="51.79" lengthAdjust="spacing" class="s">Visibility</text></g><path d="M430.5 34.0h9M435 29.5v9" stroke="#3a3a3a" stroke-width="1.05"/><path d="M430.5 50.8h9M435 46.3v9" stroke="#a03838" stroke-width="1.05"/><path d="M430.5 68.0h9M435 63.5v9" stroke="#f8a860" stroke-width="1.05"/><g transform="translate(445.7,38.7) scale(1.12,1)"><text x="0" y="0" textLength="94.64" lengthAdjust="spacing" class="s">Observed data</text></g><g transform="translate(445.7,55.5) scale(1.12,1)"><text x="0" y="0" textLength="38.93" lengthAdjust="spacing" class="s">Image</text></g><g transform="translate(445.7,71.8) scale(1.12,1)"><text x="0" y="0" textLength="85.36" lengthAdjust="spacing" class="s">Global model</text></g>
</svg>
</body></html>
